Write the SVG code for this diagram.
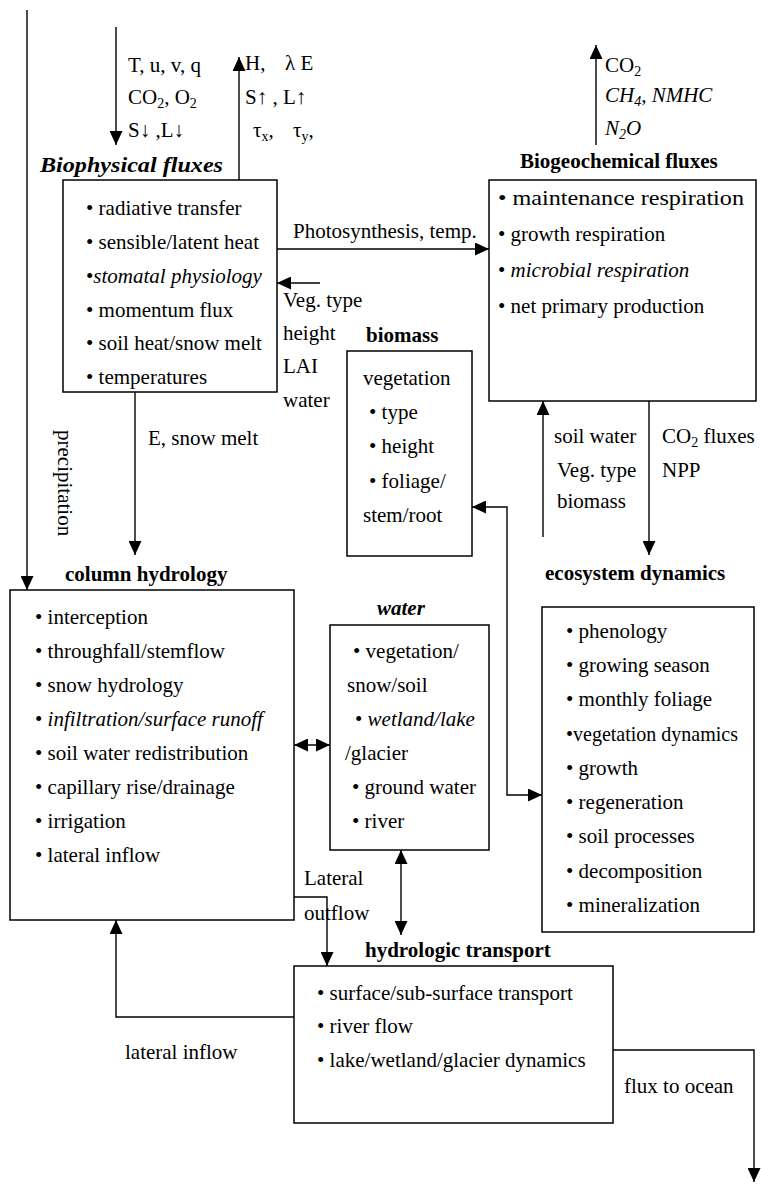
<svg xmlns="http://www.w3.org/2000/svg" width="761" height="1184" viewBox="0 0 761 1184">
<style>
text{font-family:"Liberation Serif","Times New Roman",serif;font-size:21px;fill:#000}
.b{font-weight:bold}
.i{font-style:italic}
.bi{font-weight:bold;font-style:italic}
.box{fill:none;stroke:#000;stroke-width:1.5}
.ln{fill:none;stroke:#000;stroke-width:1.4}
.sub{font-size:14px}
</style>
<defs>
<marker id="ah" viewBox="0 0 14 13" refX="14" refY="6.5" markerWidth="14" markerHeight="13" markerUnits="userSpaceOnUse" orient="auto-start-reverse">
<path d="M0,0 L14,6.5 L0,13 z" fill="#000"/>
</marker>
</defs>
<rect width="761" height="1184" fill="#fff"/>

<g id="connectors">
<path class="ln" d="M27,10 V590" marker-end="url(#ah)"/>
<path class="ln" d="M116,27 V145" marker-end="url(#ah)"/>
<path class="ln" d="M239,180 V57" marker-end="url(#ah)"/>
<path class="ln" d="M596,145 V45" marker-end="url(#ah)"/>
<path class="ln" d="M277,249 H489" marker-end="url(#ah)"/>
<path class="ln" d="M320,283 H277" marker-end="url(#ah)"/>
<path class="ln" d="M135,392 V555" marker-end="url(#ah)"/>
<path class="ln" d="M543,537 V401" marker-end="url(#ah)"/>
<path class="ln" d="M649,401 V555" marker-end="url(#ah)"/>
<path class="ln" d="M472,507 H507 V795 H542" marker-start="url(#ah)" marker-end="url(#ah)"/>
<path class="ln" d="M294,745 H330" marker-start="url(#ah)" marker-end="url(#ah)"/>
<path class="ln" d="M401,850 V935" marker-start="url(#ah)" marker-end="url(#ah)"/>
<path class="ln" d="M294,897 H327 V966" marker-end="url(#ah)"/>
<path class="ln" d="M294,1017 H116 V920" marker-end="url(#ah)"/>
<path class="ln" d="M613,1050 H754 V1182" marker-end="url(#ah)"/>

<text x="128" y="72">T, u, v, q</text>
<text x="128" y="104">CO<tspan class="sub" dy="4">2</tspan><tspan dy="-4">, O</tspan><tspan class="sub" dy="4">2</tspan></text>
<text x="128" y="137">S↓ ,L↓</text>
<text x="245" y="70">H,<tspan x="285">λ E</tspan></text>
<text x="245" y="104">S↑ , L↑</text>
<text x="253" y="137">τ<tspan class="sub" dy="4">x</tspan><tspan dy="-4">,</tspan><tspan x="293">τ</tspan><tspan class="sub" dy="4">y</tspan><tspan dy="-4">,</tspan></text>
<text x="605" y="72">CO<tspan class="sub" dy="4">2</tspan></text>
<text class="i" x="605" y="102">CH<tspan class="sub" dy="4">4</tspan><tspan dy="-4">, NMHC</tspan></text>
<text class="i" x="605" y="135">N<tspan class="sub" dy="4">2</tspan><tspan dy="-4">O</tspan></text>
<text x="293" y="238">Photosynthesis, temp.</text>
<text x="283" y="307">Veg. type</text>
<text x="283" y="340">height</text>
<text x="283" y="373">LAI</text>
<text x="283" y="407">water</text>
<text x="148" y="445">E, snow melt</text>
<text transform="translate(58,430) rotate(90)">precipitation</text>
<text x="554" y="443">soil water</text>
<text x="557" y="477">Veg. type</text>
<text x="557" y="508">biomass</text>
<text x="662" y="443">CO<tspan class="sub" dy="4">2</tspan><tspan dy="-4"> fluxes</tspan></text>
<text x="662" y="477">NPP</text>
<text x="304" y="885">Lateral</text>
<text x="304" y="920">outflow</text>
<text x="125" y="1059">lateral inflow</text>
<text x="624" y="1093">flux to ocean</text>
</g>

<g id="biophysical">
<text class="bi" x="40" y="172" font-size="22" textLength="183" lengthAdjust="spacingAndGlyphs">Biophysical fluxes</text>
<rect class="box" x="63" y="180" width="214" height="212"/>
<text x="86" y="215">• radiative transfer</text>
<text x="86" y="249">• sensible/latent heat</text>
<text x="86" y="283">•<tspan class="i">stomatal physiology</tspan></text>
<text x="86" y="317">• momentum flux</text>
<text x="86" y="350">• soil heat/snow melt</text>
<text x="86" y="384">• temperatures</text>
</g>

<g id="biogeochemical">
<text class="b" x="520" y="168">Biogeochemical fluxes</text>
<rect class="box" x="489" y="180" width="267" height="221"/>
<text x="498" y="205" textLength="246" lengthAdjust="spacingAndGlyphs">• maintenance respiration</text>
<text x="498" y="241">• growth respiration</text>
<text x="498" y="277">• <tspan class="i">microbial respiration</tspan></text>
<text x="498" y="313">• net primary production</text>
</g>

<g id="biomass">
<text class="b" x="366" y="342">biomass</text>
<rect class="box" x="347" y="351" width="125" height="205"/>
<text x="363" y="385">vegetation</text>
<text x="369" y="419">• type</text>
<text x="369" y="453">• height</text>
<text x="369" y="488">•   foliage/</text>
<text x="363" y="522">stem/root</text>
</g>

<g id="column-hydrology">
<text class="b" x="65" y="581">column hydrology</text>
<rect class="box" x="10" y="590" width="284" height="330"/>
<text x="35" y="624">• interception</text>
<text x="35" y="658">• throughfall/stemflow</text>
<text x="35" y="692">• snow hydrology</text>
<text x="35" y="726">• <tspan class="i">infiltration/surface runoff</tspan></text>
<text x="35" y="760">• soil water redistribution</text>
<text x="35" y="794">• capillary rise/drainage</text>
<text x="35" y="828">• irrigation</text>
<text x="35" y="862">• lateral inflow</text>
</g>

<g id="water">
<text class="bi" x="377" y="615">water</text>
<rect class="box" x="330" y="625" width="159" height="225"/>
<text x="353" y="658">•   vegetation/</text>
<text x="347" y="692">snow/soil</text>
<text x="355" y="726">•  <tspan class="i">wetland/lake</tspan></text>
<text x="345" y="760">/glacier</text>
<text x="352" y="794">• ground water</text>
<text x="352" y="828">• river</text>
</g>

<g id="ecosystem-dynamics">
<text class="b" x="545" y="580">ecosystem dynamics</text>
<rect class="box" x="542" y="607" width="212" height="325"/>
<text x="566" y="638">• phenology</text>
<text x="566" y="672">• growing season</text>
<text x="566" y="706">• monthly foliage</text>
<text x="566" y="741" textLength="172" lengthAdjust="spacingAndGlyphs">•vegetation dynamics</text>
<text x="566" y="775">• growth</text>
<text x="566" y="809">• regeneration</text>
<text x="566" y="843">• soil processes</text>
<text x="566" y="878">• decomposition</text>
<text x="566" y="912">• mineralization</text>
</g>

<g id="hydrologic-transport">
<text class="b" x="365" y="957">hydrologic transport</text>
<rect class="box" x="294" y="966" width="319" height="157"/>
<text x="317" y="1000">• surface/sub-surface transport</text>
<text x="317" y="1033">• river flow</text>
<text x="317" y="1067">• lake/wetland/glacier dynamics</text>
</g>
</svg>
